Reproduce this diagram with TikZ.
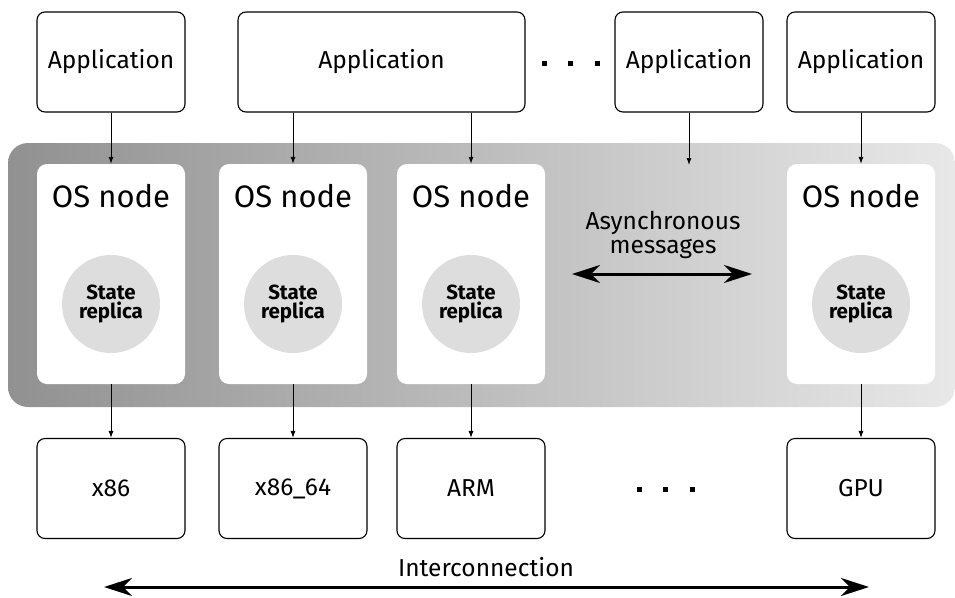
\documentclass[tikz,border=0pt]{standalone}
\usepackage{fontspec}
\setmainfont{Fira Sans}
\usetikzlibrary{arrows.meta,shadings}
\definecolor{bandleft}{RGB}{145,145,145}
\definecolor{bandright}{RGB}{232,232,232}
\definecolor{replicafill}{RGB}{221,221,221}
\tikzset{
  outerbox/.style={draw=black, line width=1.1pt, rounded corners=8pt, fill=white,
    minimum width=148pt, minimum height=100pt, inner sep=0pt, font=\fontsize{24.5}{28}\selectfont},
  osbox/.style={fill=white, rounded corners=10pt, minimum width=148pt, minimum height=220pt, inner sep=0pt},
  ostitle/.style={font=\fontsize{31}{34}\selectfont, inner sep=0pt},
  replica/.style={circle, fill=replicafill, minimum size=98pt, inner sep=0pt,
    align=center, font=\bfseries\fontsize{20.5}{19.5}\selectfont},
  flow/.style={-{Latex[length=7pt,width=5pt]}, line width=0.9pt},
  bigflow/.style={{Stealth[length=28pt,width=18pt,inset=9pt]}-{Stealth[length=28pt,width=18pt,inset=9pt]}, line width=3pt},
  dotmark/.style={fill=black, minimum size=5pt, inner sep=0pt},
  label text/.style={font=\fontsize{24.5}{23.5}\selectfont},
}
\begin{document}
\begin{tikzpicture}[x=1pt,y=-1pt]
\useasboundingbox (0,0) rectangle (955,597);

% shaded band that holds the OS nodes
\shade[left color=bandleft, right color=bandright, rounded corners=20pt]
  (8,143) rectangle (955,407);

% applications
\node[outerbox] (app1) at (111,62) {Application};
\node[outerbox, minimum width=287pt] (app2) at (381.5,62) {Application};
\node[outerbox] (app3) at (689,62) {Application};
\node[outerbox] (app4) at (861,62) {Application};
\node[dotmark] (ad1) at (544,63) {};
\node[dotmark] (ad2) at (570,63) {};
\node[dotmark] (ad3) at (597,63) {};

% OS nodes with their state replicas
\foreach \i/\x in {1/111,2/293,3/471,4/861}{
  \node[osbox] (os\i) at (\x,274) {};
  \node[ostitle] (ost\i) at (\x,196) {OS node};
  \node[replica] (rep\i) at (\x,304) {State\\replica};
}

% hardware
\node[outerbox] (hw1) at (111,488.5) {x86};
\node[outerbox] (hw2) at (293,488.5) {x86\_64};
\node[outerbox] (hw3) at (471,488.5) {ARM};
\node[outerbox] (hw4) at (861,488.5) {GPU};
\node[dotmark] (hd1) at (639,489) {};
\node[dotmark] (hd2) at (665,489) {};
\node[dotmark] (hd3) at (692,489) {};

% application to OS node
\draw[flow] (app1.south) -- (os1.north);
\draw[flow] (app2.south -| os2.north) -- (os2.north);
\draw[flow] (app2.south -| os3.north) -- (os3.north);
\coordinate (app3end) at (689,165);
\draw[flow] (app3.south) -- (app3end);
\draw[flow] (app4.south) -- (os4.north);

% OS node to hardware
\foreach \i in {1,2,3,4}{
  \draw[flow] (os\i.south) -- (hw\i.north);
}

% messages between OS nodes
\node[label text, align=center] (async) at (663,235) {Asynchronous\\messages};
\coordinate (msgl) at (572,274);
\coordinate (msgr) at (752,274);
\draw[bigflow] (msgl) -- (msgr);

% interconnection
\node[label text] (ictext) at (486,567) {Interconnection};
\coordinate (icl) at (104,587);
\coordinate (icr) at (869,587);
\draw[bigflow] (icl) -- (icr);
\end{tikzpicture}
\end{document}
